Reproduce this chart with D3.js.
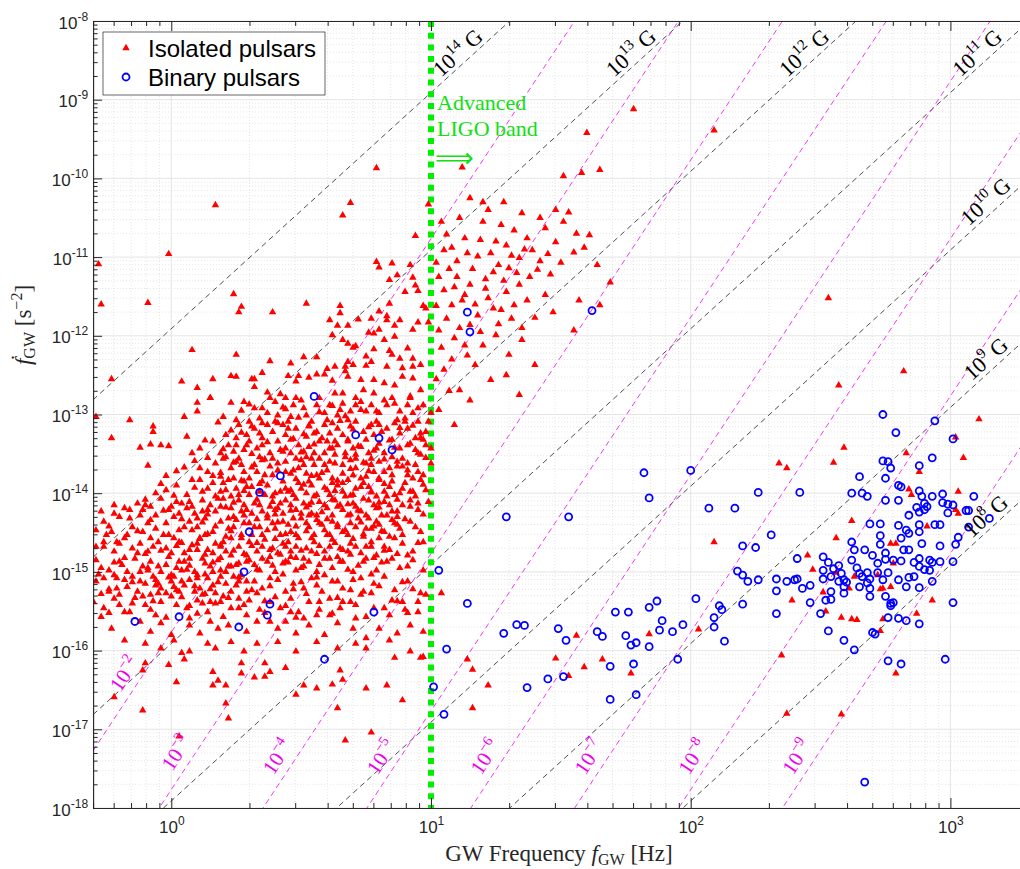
<!DOCTYPE html>
<html><head><meta charset="utf-8">
<script src="https://cdn.jsdelivr.net/npm/d3@7"></script>
<style>
html,body{margin:0;padding:0;background:#fff;}
svg{display:block;}
</style></head>
<body>
<svg id="chart" width="1020" height="869"></svg>
<script>
// Each pulsar is [log10 f_GW (Hz), log10 fdot_GW (s^-2)]
const isolatedSlowTail = [
[0.79,-9.87],[0.17,-10.34],[0.69,-10.31],[0.66,-10.47],[0.94,-10.73],[0.99,-10.33],[-0.01,-10.96],[-0.28,-11.09],[-0.27,-11.60],[-0.09,-11.58],[0.24,-11.47],[0.27,-11.63],[0.26,-11.70],[0.39,-11.70],[0.52,-11.59],[0.79,-11.06],[0.80,-11.13],[0.85,-11.08],[0.87,-11.23],[0.92,-11.10],[0.93,-11.26],[0.84,-11.29],[0.90,-11.44],[0.94,-11.36],[0.95,-11.43],[0.84,-11.59],[0.97,-11.62],[0.98,-11.65],[0.95,-11.83],[0.80,-11.69],[0.83,-11.75],[0.65,-11.62],[0.65,-11.71],[0.61,-11.80],[0.64,-11.87],[0.68,-11.87],[0.72,-11.79],[0.77,-11.78],[0.83,-11.80],[0.88,-11.80],[0.86,-11.87],[0.80,-11.92],[0.62,-11.99],[0.76,-11.96],[0.78,-11.97],[0.93,-11.92],[0.99,-11.83],[0.08,-12.18],[0.25,-12.24],[0.38,-12.32],[-0.23,-12.55],[0.04,-12.58],[0.10,-12.66],[0.16,-12.55],[0.23,-12.51],[0.25,-12.52],[0.31,-12.55],[0.32,-12.55],[0.32,-12.65],[0.35,-12.47],[0.15,-12.79],[0.37,-12.72],[0.42,-12.74],[0.45,-12.51],[0.46,-12.35],[0.49,-12.51],[0.48,-12.58],[0.51,-12.27],[0.56,-12.27],[0.53,-12.53],[0.56,-12.49],[0.59,-12.49],[0.60,-12.42],[0.63,-12.39],[0.62,-12.57],[0.66,-12.05],[0.68,-12.10],[0.70,-12.15],[0.71,-12.13],[0.68,-12.33],[0.67,-12.39],[0.70,-12.37],[0.67,-12.45],[0.68,-12.52],[0.75,-12.38],[0.77,-12.33],[0.78,-12.17],[0.75,-12.26],[0.73,-12.56],[0.78,-12.56],[0.82,-12.05],[0.86,-12.01],[0.84,-12.19],[0.85,-12.24],[0.91,-12.16],[0.88,-12.29],[0.83,-12.39],[0.89,-12.41],[0.93,-12.29],[0.93,-12.39],[0.96,-12.37],[0.82,-12.60],[0.86,-12.63],[0.89,-12.52],[0.93,-12.54],[0.96,-12.69],[0.63,-12.73],[0.66,-12.73],[0.74,-12.69],[0.78,-12.73],[0.71,-12.79],[0.92,-12.77],[0.44,-12.79],[0.48,-12.79]
];
const isolatedYoungBand = [
[1.12,-9.86],[1.51,-9.97],[1.58,-9.93],[1.65,-9.89],[1.60,-9.42],[1.78,-9.12],[2.09,-9.39],
[1.02,-11.07],[1.05,-10.91],[1.06,-10.71],[1.11,-10.50],[1.13,-10.76],[1.15,-10.25],[1.18,-10.99],[1.20,-10.55],[1.22,-10.40],[1.25,-10.80],[1.27,-10.59],[1.29,-10.85],[1.30,-11.14],[1.32,-10.66],[1.34,-11.01],[1.35,-10.44],[1.37,-10.76],[1.39,-10.91],[1.41,-11.16],[1.44,-10.63],[1.45,-10.96],[1.48,-10.81],[1.50,-11.07],[1.51,-10.55],[1.53,-10.43],[1.55,-10.94],[1.59,-10.88],[1.61,-10.72],[1.64,-11.10],[1.69,-11.32],[1.05,-11.42],[1.08,-11.61],[1.10,-11.25],[1.12,-11.55],[1.15,-11.35],[1.18,-11.74],[1.22,-11.52],[1.24,-11.19],[1.27,-11.67],[1.29,-11.44],[1.32,-11.61],[1.34,-11.35],[1.37,-11.55],[1.40,-11.77],[1.44,-11.48],[1.47,-11.70],[1.03,-11.93],[1.09,-12.03],[1.15,-11.86],[1.20,-12.12],[1.25,-11.99],[1.30,-12.24],[1.35,-12.05],[1.05,-12.43],[1.11,-12.69],[1.17,-12.37],[1.23,-12.56],[1.29,-12.50],[1.34,-12.75],[1.40,-12.37],[1.03,-12.94],[1.09,-13.13],[1.15,-12.82],[1.57,-11.55],[1.65,-11.61],[1.55,-11.93],[1.13,-12.12],
[1.04,-10.55],[1.08,-10.88],[1.10,-11.05],[1.14,-10.95],[1.16,-11.15],[1.19,-10.78],[1.21,-11.28],[1.23,-10.95],[1.26,-11.10],[1.28,-11.30],[1.31,-10.98],[1.33,-11.20],[1.36,-10.90],[1.38,-11.25],[1.42,-11.05],[1.46,-11.22],[1.03,-11.25],[1.07,-11.15],[1.09,-11.38],[1.13,-11.48],[1.17,-11.60],[1.21,-11.40],[1.24,-11.65],[1.26,-11.85],[1.31,-11.78],[1.35,-11.90],[1.02,-11.62],[1.06,-11.78],[1.11,-11.90],[1.19,-11.95],[1.04,-12.15],[1.08,-12.30],[1.14,-12.25],[1.02,-12.55],[1.07,-12.70],[1.20,-10.30],[1.28,-10.30],[1.42,-10.50],[1.48,-10.40],[1.56,-10.70]
];
const isolatedCore = [
[-0.29,-13.03],[-0.16,-13.07],[-0.07,-13.15],[0.05,-13.03],[0.10,-12.96],[0.10,-12.85],[0.15,-12.79],[0.23,-12.85],[0.27,-12.95],[0.32,-12.92],[0.34,-13.05],[0.35,-12.92],[0.38,-12.79],[0.41,-13.01],[0.43,-12.91],[0.46,-13.03],[0.47,-12.88],[0.51,-12.92],[0.52,-13.01],[0.56,-12.88],[0.59,-12.98],[0.61,-12.88],[0.64,-13.01],[0.66,-12.86],[0.69,-12.96],[0.71,-12.88],[0.75,-12.96],[0.77,-12.88],[0.80,-12.98],[0.83,-12.88],[0.85,-12.79],[0.88,-12.96],[0.91,-12.88],[0.93,-12.98],[0.97,-12.88],[1.00,-12.98],
[-0.23,-13.30],[-0.07,-13.22],[0.06,-13.28],[0.21,-13.26],[0.23,-13.20],[0.26,-13.13],[0.29,-13.26],[0.32,-13.18],[0.34,-13.24],[0.37,-13.13],[0.39,-13.22],[0.43,-13.13],[0.44,-13.26],[0.48,-13.18],[0.51,-13.25],[0.53,-13.15],[0.56,-13.22],[0.59,-13.13],[0.61,-13.24],[0.64,-13.18],[0.66,-13.26],[0.69,-13.15],[0.74,-13.22],[0.77,-13.13],[0.78,-13.26],[0.83,-13.18],[0.88,-13.24],[0.91,-13.18],[0.96,-13.30],[0.98,-13.22],
[-0.12,-13.42],[-0.08,-13.38],[-0.04,-13.39],[-0.01,-13.40],[0.11,-13.43],[0.16,-13.34],[0.19,-13.49],[0.22,-13.39],[0.24,-13.47],[0.28,-13.45],[0.30,-13.34],[0.33,-13.43],[0.35,-13.39],[0.38,-13.49],[0.41,-13.34],[0.44,-13.43],[0.46,-13.49],[0.49,-13.39],[0.51,-13.47],[0.53,-13.41],[0.57,-13.34],[0.59,-13.49],[0.61,-13.43],[0.64,-13.39],[0.67,-13.49],[0.70,-13.43],[0.73,-13.41],[0.76,-13.49],[0.79,-13.43],[0.82,-13.49],[0.88,-13.43],[0.91,-13.39],[0.94,-13.45],[0.98,-13.39],[1.00,-13.43],
[-0.09,-13.65],[-0.02,-13.78],[0.05,-13.67],[0.09,-13.59],[0.14,-13.73],[0.17,-13.62],[0.20,-13.56],[0.23,-13.68],[0.25,-13.60],[0.28,-13.73],[0.32,-13.64],[0.34,-13.54],[0.38,-13.66],[0.44,-13.60],[0.47,-13.71],[0.50,-13.58],[0.52,-13.75],[0.55,-13.64],[0.57,-13.56],[0.60,-13.71],[0.63,-13.62],[0.66,-13.75],[0.69,-13.58],[0.71,-13.68],[0.75,-13.62],[0.78,-13.73],[0.80,-13.60],[0.84,-13.68],[0.87,-13.60],[0.91,-13.71],[0.94,-13.64],[0.97,-13.77],[1.00,-13.62],
[-0.06,-14.00],[-0.02,-13.96],[0.02,-13.90],[0.06,-14.02],[0.11,-13.83],[0.14,-13.94],[0.16,-13.87],[0.19,-13.98],[0.22,-13.83],[0.25,-13.94],[0.28,-13.85],[0.31,-13.92],[0.37,-13.90],[0.40,-14.00],[0.43,-13.85],[0.46,-13.96],[0.49,-13.87],[0.52,-14.00],[0.54,-13.90],[0.57,-13.81],[0.60,-13.96],[0.62,-13.87],[0.66,-13.98],[0.68,-13.83],[0.71,-13.94],[0.74,-13.87],[0.77,-13.98],[0.80,-13.81],[0.84,-13.92],[0.86,-14.02],[0.90,-13.87],[0.93,-13.98],[0.96,-13.83],[0.98,-13.96],
[-0.27,-14.23],[-0.22,-14.26],[-0.18,-14.19],[-0.13,-14.13],[-0.11,-14.21],[-0.08,-14.17],[-0.04,-14.07],[-0.01,-14.21],[0.02,-14.11],[0.06,-14.19],[0.09,-14.26],[0.12,-14.09],[0.15,-14.15],[0.17,-14.23],[0.20,-14.07],[0.23,-14.19],[0.26,-14.09],[0.29,-14.21],[0.32,-14.13],[0.35,-14.23],[0.39,-14.11],[0.41,-14.19],[0.44,-14.09],[0.48,-14.21],[0.51,-14.13],[0.54,-14.26],[0.57,-14.11],[0.60,-14.19],[0.63,-14.09],[0.66,-14.21],[0.70,-14.13],[0.73,-14.23],[0.76,-14.09],[0.79,-14.19],[0.82,-14.11],[0.85,-14.23],[0.89,-14.15],[0.92,-14.09],[0.95,-14.21],[0.99,-14.11],
[-0.29,-14.47],[-0.26,-14.36],[-0.23,-14.49],[-0.20,-14.30],[-0.16,-14.32],[-0.15,-14.43],[-0.11,-14.49],[-0.08,-14.34],[-0.06,-14.45],[-0.02,-14.38],[0.01,-14.30],[0.03,-14.47],[0.07,-14.36],[0.10,-14.43],[0.13,-14.32],[0.16,-14.49],[0.19,-14.36],[0.22,-14.45],[0.25,-14.34],[0.34,-14.43],[0.37,-14.32],[0.40,-14.45],[0.43,-14.36],[0.46,-14.49],[0.50,-14.32],[0.53,-14.43],[0.56,-14.34],[0.59,-14.47],[0.62,-14.36],[0.66,-14.49],[0.69,-14.38],[0.72,-14.32],[0.75,-14.45],[0.79,-14.36],[0.82,-14.49],[0.85,-14.34],[0.88,-14.45],[0.92,-14.36],[0.96,-14.49],
[-0.29,-14.68],[-0.26,-14.62],[-0.22,-14.74],[-0.18,-14.57],[-0.15,-14.70],[-0.12,-14.64],[-0.09,-14.74],[-0.05,-14.62],[-0.02,-14.70],[0.01,-14.57],[0.05,-14.76],[0.08,-14.66],[0.11,-14.57],[0.14,-14.72],[0.17,-14.64],[0.21,-14.74],[0.23,-14.57],[0.26,-14.68],[0.30,-14.62],[0.33,-14.74],[0.36,-14.59],[0.39,-14.70],[0.43,-14.64],[0.46,-14.74],[0.49,-14.57],[0.52,-14.70],[0.55,-14.62],[0.59,-14.74],[0.62,-14.59],[0.65,-14.70],[0.69,-14.64],[0.73,-14.76],[0.77,-14.68],[0.80,-14.57],[0.84,-14.72],[0.89,-14.64],[0.93,-14.74],[0.97,-14.62],
[-0.29,-14.85],[-0.24,-14.98],[-0.20,-14.87],[-0.17,-15.00],[-0.14,-14.83],[-0.11,-14.93],[-0.08,-14.87],[-0.04,-15.00],[-0.01,-14.81],[0.02,-14.95],[0.05,-14.87],[0.09,-15.00],[0.12,-14.83],[0.15,-14.93],[0.18,-14.85],[0.21,-15.00],[0.25,-14.91],[0.30,-14.85],[0.34,-14.98],[0.37,-14.87],[0.40,-15.00],[0.43,-14.89],[0.46,-14.81],[0.50,-14.95],[0.53,-14.87],[0.56,-15.00],[0.59,-14.83],[0.62,-14.95],[0.66,-14.87],[0.70,-15.00],[0.74,-14.87],[0.79,-14.98],[0.83,-14.87],[0.88,-14.95],[0.93,-14.85],[0.97,-14.98],
[-0.29,-15.12],[-0.26,-15.08],[-0.21,-15.21],[-0.18,-15.10],[-0.13,-15.25],[-0.10,-15.15],[-0.07,-15.06],[-0.04,-15.21],[0.00,-15.12],[0.03,-15.25],[0.07,-15.10],[0.11,-15.21],[0.14,-15.08],[0.17,-15.27],[0.21,-15.15],[0.24,-15.06],[0.29,-15.25],[0.32,-15.12],[0.35,-15.21],[0.41,-15.10],[0.44,-15.25],[0.47,-15.15],[0.51,-15.21],[0.54,-15.08],[0.58,-15.25],[0.62,-15.12],[0.66,-15.21],[0.70,-15.10],[0.74,-15.25],[0.78,-15.15],[0.82,-15.06],[0.86,-15.23],[0.91,-15.12],[0.96,-15.27],
[-0.30,-15.38],[-0.26,-15.46],[-0.22,-15.34],[-0.18,-15.51],[-0.15,-15.40],[-0.11,-15.31],[-0.08,-15.48],[-0.04,-15.38],[0.00,-15.31],[0.06,-15.46],[0.10,-15.36],[0.14,-15.51],[0.17,-15.40],[0.20,-15.31],[0.23,-15.46],[0.30,-15.36],[0.34,-15.48],[0.42,-15.46],[0.46,-15.34],[0.49,-15.51],[0.53,-15.38],[0.57,-15.48],[0.61,-15.34],[0.65,-15.46],[0.69,-15.38],[0.73,-15.29],[0.82,-15.46],[0.85,-15.36],[0.90,-15.48],[0.95,-15.38],[0.98,-15.29],
[-0.27,-15.57],[-0.23,-15.72],[-0.18,-15.87],[-0.12,-15.63],[-0.08,-15.76],[-0.04,-15.65],[0.00,-15.80],[0.07,-15.68],[0.11,-15.78],[0.15,-15.63],[0.18,-15.72],[0.22,-15.68],[0.29,-15.76],[0.33,-15.63],[0.41,-15.72],[0.44,-15.63],[0.48,-15.78],[0.53,-15.68],[0.59,-15.80],[0.64,-15.65],[0.70,-15.72],[0.75,-15.84],[0.80,-15.72],[0.87,-15.78],[0.92,-15.68],[0.97,-15.76],
[-0.10,-15.91],[-0.04,-15.97],[0.01,-15.87],[0.07,-16.01],[0.14,-15.91],[0.17,-15.97],[0.23,-15.89],[0.28,-16.01],[0.33,-15.91],[0.41,-15.89],[0.48,-16.01],[0.56,-15.89],[0.64,-15.97],[0.71,-15.91],[0.75,-15.97],[0.84,-15.87],[0.92,-16.01]
];
const isolatedCoreFill = [
[0.25,-13.07],[0.28,-12.84],[0.35,-13.11],[0.40,-12.84],[0.45,-13.09],[0.50,-12.82],[0.54,-13.09],[0.57,-12.79],[0.60,-13.07],[0.65,-12.94],[0.68,-13.07],[0.73,-12.84],[0.79,-13.09],[0.82,-12.82],[0.87,-13.07],[0.92,-12.79],[0.95,-13.09],
[0.25,-13.30],[0.30,-13.09],[0.35,-13.30],[0.41,-13.11],[0.46,-13.32],[0.52,-13.28],[0.58,-13.30],[0.62,-13.11],[0.68,-13.32],[0.71,-13.09],[0.75,-13.32],[0.80,-13.13],[0.85,-13.32],[0.90,-13.09],[0.94,-13.30],
[0.21,-13.54],[0.26,-13.56],[0.29,-13.39],[0.35,-13.58],[0.39,-13.56],[0.43,-13.47],[0.48,-13.56],[0.52,-13.54],[0.55,-13.49],[0.60,-13.34],[0.63,-13.51],[0.68,-13.34],[0.71,-13.56],[0.77,-13.56],[0.80,-13.37],[0.85,-13.54],[0.89,-13.56],[0.96,-13.51],
[0.19,-13.79],[0.24,-13.81],[0.27,-13.64],[0.30,-13.81],[0.33,-13.73],[0.36,-13.77],[0.41,-13.71],[0.46,-13.75],[0.51,-13.64],[0.56,-13.77],[0.59,-13.64],[0.62,-13.81],[0.66,-13.64],[0.70,-13.77],[0.73,-13.81],[0.77,-13.64],[0.82,-13.73],[0.85,-13.77],[0.89,-13.66],[0.93,-13.81],
[0.17,-14.04],[0.21,-13.96],[0.26,-14.02],[0.30,-14.02],[0.34,-13.98],[0.35,-13.85],[0.39,-14.04],[0.42,-13.98],[0.47,-14.02],[0.50,-13.94],[0.53,-13.85],[0.56,-14.02],[0.61,-14.02],[0.64,-13.90],[0.67,-14.04],[0.70,-14.02],[0.76,-13.92],[0.79,-14.04],[0.82,-13.98],[0.85,-13.85],[0.88,-14.00],[0.94,-14.04],
[0.19,-14.17],[0.24,-14.30],[0.28,-14.15],[0.31,-14.26],[0.34,-14.15],[0.37,-14.28],[0.40,-14.21],[0.43,-14.26],[0.46,-14.15],[0.50,-14.26],[0.53,-14.15],[0.56,-14.28],[0.59,-14.15],[0.62,-14.28],[0.65,-14.15],[0.68,-14.28],[0.71,-14.17],[0.75,-14.28],[0.78,-14.15],[0.81,-14.28],[0.84,-14.15],[0.87,-14.30],
[0.21,-14.55],[0.24,-14.43],[0.27,-14.53],[0.30,-14.38],[0.35,-14.53],[0.39,-14.38],[0.42,-14.53],[0.45,-14.40],[0.48,-14.53],[0.52,-14.38],[0.55,-14.53],[0.58,-14.40],[0.61,-14.53],[0.64,-14.40],[0.68,-14.53],[0.71,-14.43],[0.74,-14.55],[0.77,-14.45],[0.80,-14.40],[0.84,-14.55],[0.87,-14.40],
[0.23,-14.79],[0.26,-14.89],[0.29,-14.79],[0.32,-14.91],[0.35,-14.68],[0.38,-14.81],[0.41,-14.76],[0.44,-14.87],[0.48,-14.68],[0.51,-14.83],[0.54,-14.74],[0.57,-14.91],[0.61,-14.68],[0.64,-14.81],[0.68,-14.74],[0.71,-14.68],[0.75,-14.83],[0.79,-14.79],[0.82,-14.68],[0.85,-14.83],[0.91,-14.79],
[-0.22,-14.15],[-0.16,-14.21],[-0.10,-14.15],[-0.06,-14.28],[0.00,-14.17],[0.03,-14.26],[0.07,-14.11],[0.10,-14.32],[0.14,-14.21],[-0.25,-14.53],[-0.20,-14.64],[-0.17,-14.53],[-0.13,-14.76],[-0.07,-14.68],[-0.03,-14.53],[0.00,-14.76],[0.03,-14.62],[0.07,-14.72],[0.10,-14.64],[0.13,-14.53],[0.16,-14.76],[0.19,-14.66],
[-0.27,-14.95],[-0.22,-15.04],[-0.19,-14.91],[-0.15,-15.06],[-0.12,-15.00],[-0.09,-14.95],[-0.06,-15.10],[-0.02,-14.91],[0.01,-15.06],[0.04,-14.98],[0.10,-15.04],[0.13,-14.89],[0.16,-15.00],[0.19,-15.06],[0.23,-14.93],[0.26,-15.12],
[-0.24,-15.25],[-0.20,-15.29],[-0.17,-15.19],[-0.12,-15.12],[-0.08,-15.29],[-0.05,-15.15],[-0.02,-15.27],[0.01,-15.19],[0.05,-15.17],[0.09,-15.25],[0.12,-15.29],[0.16,-15.17],[0.19,-15.38],[0.23,-15.25],[0.26,-15.34],
[-0.16,-15.51],[-0.10,-15.42],[-0.06,-15.55],[0.02,-15.42],[0.07,-15.59],[0.12,-15.40],[0.26,-15.46],[0.29,-15.55],[0.38,-15.38],[0.38,-15.63],[0.46,-15.51],[0.51,-15.59],[0.56,-15.55],[0.61,-15.55],[0.66,-15.38],[0.71,-15.59],[0.78,-15.46],[0.84,-15.55],[0.89,-15.38],[0.95,-15.51]
];
const isolatedCoreDense = [
[0.30,-12.87],[0.44,-12.93],[0.62,-12.89],[0.73,-12.94],[0.86,-12.86],[0.95,-12.92],
[0.20,-13.03],[0.37,-12.98],[0.49,-13.04],[0.57,-12.97],[0.67,-13.02],[0.79,-12.96],[0.90,-13.05],
[0.18,-13.10],[0.31,-13.15],[0.40,-13.09],[0.53,-13.14],[0.65,-13.08],[0.76,-13.16],[0.86,-13.11],[0.93,-13.14],[0.99,-13.09],
[0.27,-13.23],[0.45,-13.18],[0.55,-13.24],[0.70,-13.19],[0.81,-13.22],[0.88,-13.17],[0.96,-13.24],
[0.13,-13.33],[0.25,-13.39],[0.37,-13.35],[0.47,-13.31],[0.55,-13.38],[0.63,-13.34],[0.72,-13.40],[0.84,-13.33],[0.92,-13.37],[0.97,-13.32],
[0.08,-13.49],[0.20,-13.44],[0.31,-13.50],[0.42,-13.45],[0.50,-13.48],[0.62,-13.43],[0.71,-13.51],[0.78,-13.46],[0.86,-13.42],[0.95,-13.49],
[0.14,-13.55],[0.24,-13.61],[0.36,-13.57],[0.41,-13.62],[0.54,-13.56],[0.61,-13.60],[0.67,-13.54],[0.74,-13.61],[0.82,-13.57],[0.91,-13.62],[0.98,-13.55],
[0.02,-13.72],[0.11,-13.68],[0.19,-13.74],[0.31,-13.67],[0.44,-13.73],[0.49,-13.68],[0.58,-13.74],[0.69,-13.69],[0.76,-13.72],[0.87,-13.66],[0.95,-13.73],
[0.08,-13.83],[0.16,-13.78],[0.27,-13.84],[0.39,-13.77],[0.48,-13.82],[0.54,-13.78],[0.64,-13.84],[0.75,-13.79],[0.80,-13.83],[0.91,-13.77],
[-0.04,-13.88],[0.09,-13.93],[0.20,-13.87],[0.29,-13.92],[0.34,-13.88],[0.44,-13.94],[0.51,-13.89],[0.59,-13.93],[0.66,-13.87],[0.73,-13.92],[0.82,-13.88],[0.89,-13.94],[0.97,-13.89],
[0.01,-14.03],[0.12,-13.98],[0.23,-14.04],[0.28,-13.97],[0.36,-14.02],[0.45,-13.98],[0.55,-14.04],[0.63,-13.97],[0.69,-14.03],[0.77,-13.99],[0.83,-14.04],[0.92,-13.98],
[-0.10,-14.08],[0.04,-14.13],[0.18,-14.07],[0.24,-14.12],[0.33,-14.08],[0.42,-14.13],[0.48,-14.07],[0.54,-14.12],[0.62,-14.08],[0.68,-14.14],[0.74,-14.07],[0.80,-14.12],[0.87,-14.08],[0.95,-14.13],
[-0.03,-14.22],[0.08,-14.17],[0.12,-14.23],[0.21,-14.18],[0.27,-14.23],[0.38,-14.17],[0.46,-14.22],[0.52,-14.18],[0.58,-14.24],[0.64,-14.17],[0.72,-14.22],[0.80,-14.18],[0.87,-14.23],[0.92,-14.17],
[-0.12,-14.28],[0.04,-14.33],[0.14,-14.27],[0.22,-14.32],[0.28,-14.28],[0.33,-14.33],[0.40,-14.27],[0.47,-14.32],[0.53,-14.28],[0.60,-14.33],[0.69,-14.27],[0.76,-14.32],[0.83,-14.28],[0.90,-14.33],[0.97,-14.27],
[-0.24,-14.42],[-0.09,-14.38],[0.05,-14.43],[0.12,-14.37],[0.17,-14.42],[0.28,-14.38],[0.32,-14.43],[0.41,-14.37],[0.48,-14.42],[0.57,-14.38],[0.64,-14.43],[0.73,-14.37],[0.78,-14.42],[0.86,-14.38],[0.94,-14.43],
[-0.13,-14.48],[-0.01,-14.53],[0.08,-14.47],[0.14,-14.52],[0.23,-14.48],[0.31,-14.53],[0.37,-14.47],[0.44,-14.52],[0.52,-14.48],[0.60,-14.53],[0.67,-14.47],[0.74,-14.52],[0.81,-14.48],[0.89,-14.53],
[-0.21,-14.62],[-0.08,-14.57],[0.04,-14.63],[0.11,-14.58],[0.20,-14.62],[0.27,-14.57],[0.33,-14.63],[0.40,-14.58],[0.45,-14.62],[0.54,-14.57],[0.63,-14.63],[0.70,-14.58],[0.77,-14.62],[0.86,-14.57],[0.95,-14.63],
[-0.26,-14.68],[-0.04,-14.73],[0.02,-14.67],[0.10,-14.72],[0.19,-14.68],[0.24,-14.73],[0.31,-14.67],[0.38,-14.72],[0.44,-14.68],[0.50,-14.73],[0.57,-14.67],[0.66,-14.72],[0.75,-14.68],[0.82,-14.73],
[-0.18,-14.82],[-0.10,-14.77],[0.07,-14.83],[0.13,-14.78],[0.19,-14.82],[0.28,-14.77],[0.35,-14.83],[0.42,-14.78],[0.48,-14.82],[0.56,-14.77],[0.61,-14.83],[0.69,-14.78],[0.78,-14.82],[0.87,-14.77],
[-0.22,-14.88],[-0.05,-14.93],[0.03,-14.87],[0.07,-14.92],[0.16,-14.88],[0.22,-14.93],[0.29,-14.87],[0.39,-14.92],[0.45,-14.88],[0.51,-14.93],[0.65,-14.87],[0.72,-14.92],[0.81,-14.88],[0.91,-14.93],
[-0.28,-15.03],[-0.09,-14.98],[0.00,-15.04],[0.06,-14.97],[0.13,-15.03],[0.19,-14.98],[0.27,-15.04],[0.33,-14.97],[0.43,-15.03],[0.48,-14.98],[0.59,-15.04],[0.68,-14.97],[0.77,-15.03],
[-0.21,-15.08],[-0.15,-15.13],[-0.01,-15.07],[0.04,-15.12],[0.10,-15.08],[0.18,-15.13],[0.26,-15.07],[0.29,-15.12],[0.38,-15.08],[0.50,-15.13],[0.56,-15.07],[0.64,-15.12],[0.73,-15.08],[0.89,-15.13],
[-0.24,-15.22],[-0.06,-15.17],[0.02,-15.23],[0.09,-15.18],[0.15,-15.22],[0.25,-15.17],[0.31,-15.23],[0.38,-15.18],[0.47,-15.22],[0.56,-15.17],[0.69,-15.23],[0.80,-15.18],[0.93,-15.22],
[-0.27,-15.28],[-0.14,-15.33],[-0.05,-15.27],[0.04,-15.32],[0.13,-15.28],[0.22,-15.33],[0.33,-15.27],[0.40,-15.32],[0.52,-15.28],[0.64,-15.33],[0.77,-15.27],
[-0.20,-15.42],[-0.07,-15.37],[0.07,-15.43],[0.15,-15.38],[0.28,-15.42],[0.36,-15.37],[0.44,-15.43],[0.57,-15.38],[0.71,-15.42],[0.87,-15.37],
[-0.24,-15.52],[-0.02,-15.58],[0.10,-15.53],[0.20,-15.57],[0.36,-15.52],[0.48,-15.58],[0.62,-15.53],[0.75,-15.57],[0.91,-15.52]
];
const isolatedFaintTail = [
[-0.11,-16.25],[-0.10,-16.16],[-0.01,-16.18],[0.04,-16.03],[0.05,-16.11],[0.02,-16.40],[0.16,-16.27],[0.16,-16.44],[0.18,-16.38],[0.21,-16.44],[0.27,-16.29],[0.27,-16.16],[0.32,-16.34],[0.36,-16.16],[0.36,-16.33],[0.38,-16.27],[0.44,-16.22],[0.48,-16.56],[0.51,-16.44],[0.56,-16.48],[0.62,-16.43],[0.66,-16.37],[0.65,-16.25],[0.75,-16.48],[0.83,-16.44],[0.89,-16.63],[0.86,-16.09],[0.97,-16.08],[0.21,-16.67],[0.22,-16.86],[-0.22,-16.59],[-0.11,-16.76],[0.03,-17.09],[0.77,-17.04],[0.67,-17.14],[0.64,-16.73],[1.04,-15.27],
[0.96,-16.09],[1.14,-16.11],[1.16,-16.24],[1.22,-16.44],[1.16,-16.73],[1.48,-16.10],[1.56,-15.81],[1.59,-16.21],[1.53,-16.32],[1.66,-16.11],[1.77,-16.29],[1.84,-15.79],[2.37,-16.80],[2.58,-16.81]
];
const isolatedFastSpin = [
[2.53,-11.52],[2.82,-12.45],[2.85,-14.02],
[2.57,-12.63],[3.11,-13.06],[3.02,-13.29],[2.59,-13.42],[2.83,-13.49],[3.05,-13.55],[2.34,-13.62],[2.37,-13.68],[2.55,-13.61],[2.88,-13.73],[2.84,-13.95],[3.03,-13.98],[3.02,-14.21],[3.03,-14.26],[2.91,-14.42],[2.62,-14.35],[2.09,-14.62],[2.56,-14.57],[2.77,-14.64],[2.79,-14.64],[2.45,-14.79],[2.47,-14.97],[2.56,-15.01],[2.78,-14.89],[2.72,-15.04],[2.63,-15.06],[2.77,-15.19],[2.74,-15.21],[2.73,-15.22],[2.61,-15.21],[2.51,-15.26],[2.39,-15.36],[2.93,-15.36],[2.52,-15.50],[2.58,-15.58],[2.62,-15.60],[2.64,-15.61],[2.74,-15.60],[2.87,-15.53],[2.73,-15.75],[2.03,-15.73],[2.35,-16.06],[2.79,-16.29]
];
const binaryLowFreq = [
[0.55,-12.77],[0.71,-13.26],[0.80,-13.30],[0.85,-13.45],[0.42,-13.78],[0.34,-13.99],[0.30,-14.49],[0.28,-15.00],[0.38,-15.41],[0.37,-15.55],[0.26,-15.70],[0.03,-15.57],[-0.14,-15.63],[0.78,-15.51],[0.59,-16.11],[1.03,-14.98],[1.06,-15.98],[1.01,-16.46],[1.05,-16.81],
[1.14,-11.70],[1.15,-11.95],[1.62,-11.68]
];
const binaryMidFreq = [
[1.29,-14.30],[1.53,-14.30],[1.82,-13.74],[1.84,-14.06],
[1.14,-15.40],[1.28,-15.78],[1.33,-15.67],[1.36,-15.68],[1.37,-16.47],[1.45,-16.36],[1.49,-15.72],[1.52,-15.87],[1.51,-16.33],[1.64,-15.76],[1.66,-15.82],[1.71,-15.51],[1.76,-15.51],[1.69,-16.20],[1.69,-16.62],[1.75,-15.81],[1.77,-15.93],[1.79,-15.90],[1.78,-16.17],[1.79,-16.56],[1.84,-15.95],[1.84,-15.45],[1.87,-15.37],[1.88,-15.74],[1.89,-15.62],[1.93,-15.76],[1.97,-15.67],[1.95,-16.11],[2.67,-17.67]
];
const binaryMillisecond = [
[2.74,-13.00],[2.94,-13.08],[2.79,-13.23],[3.01,-13.31],[2.93,-13.55],[2.74,-13.59],[2.76,-13.60],[2.77,-13.68],[2.88,-13.65],[2.65,-13.79],[2.75,-13.81],[2.80,-13.90],[2.81,-13.92],[2.26,-13.99],[2.42,-13.99],[2.62,-14.00],[2.66,-14.00],[2.68,-14.04],[2.75,-14.09],[2.80,-14.09],[2.88,-13.97],[2.89,-14.04],[2.93,-14.04],[2.97,-14.01],[2.97,-14.12],[2.99,-14.14],[3.01,-14.15],[3.09,-14.04],[2.90,-14.13],[2.91,-14.17],[2.90,-14.21],[2.87,-14.18],[2.88,-14.24],[2.84,-14.28],[2.99,-14.25],[3.06,-14.22],[3.07,-14.22],[3.15,-14.32],[3.07,-14.43],[2.07,-14.19],[2.17,-14.19],[2.69,-14.39],[2.73,-14.39],[2.80,-14.41],[2.83,-14.47],[2.88,-14.40],[2.88,-14.49],[2.94,-14.40],[2.96,-14.40],[2.73,-14.54],[2.81,-14.57],[2.84,-14.51],[2.31,-14.53],[2.62,-14.62],[2.20,-14.67],[2.25,-14.69],[2.63,-14.72],[2.67,-14.72],[2.73,-14.65],[2.89,-14.64],[2.82,-14.72],[2.84,-14.72],[2.96,-14.67],[3.02,-14.65],[3.03,-14.56],[2.41,-14.83],[2.51,-14.81],[2.70,-14.79],[2.75,-14.76],[2.75,-14.84],[2.78,-14.85],[2.81,-14.86],[2.62,-14.85],[2.53,-14.88],[2.57,-14.92],[2.72,-14.89],[2.86,-14.88],[2.88,-14.83],[2.88,-14.93],[2.92,-14.85],[2.93,-14.88],[2.96,-14.87],[3.01,-14.87],[2.90,-14.97],[2.92,-14.98],[2.18,-14.99],[2.20,-15.04],[2.22,-15.12],[2.26,-15.10],[2.33,-15.09],[2.33,-15.24],[2.37,-15.12],[2.40,-15.10],[2.41,-15.09],[2.43,-15.21],[2.46,-15.17],[2.51,-15.09],[2.51,-14.98],[2.54,-15.06],[2.55,-14.96],[2.58,-15.02],[2.59,-15.10],[2.60,-15.13],[2.64,-14.95],[2.65,-15.02],[2.66,-15.06],[2.68,-15.01],[2.69,-15.09],[2.68,-15.14],[2.72,-15.01],[2.74,-15.10],[2.76,-15.01],[2.80,-15.10],[2.83,-15.19],[2.84,-15.07],[2.86,-15.06],[2.93,-15.12],[2.88,-15.20],[2.57,-15.12],[2.59,-15.19],[2.65,-15.19],[2.69,-15.21],[2.54,-15.25],[2.59,-15.27],[2.69,-15.31],[2.75,-15.31],[2.52,-15.36],[2.54,-15.35],[2.46,-15.39],[2.77,-15.40],[2.78,-15.39],[2.77,-15.43],[2.02,-15.34],[2.11,-15.43],[2.12,-15.48],[2.09,-15.58],[2.09,-15.70],[2.20,-15.41],[2.13,-15.88],[2.33,-15.53],[2.50,-15.53],[2.53,-15.75],[2.59,-15.87],[2.63,-15.99],[2.70,-15.77],[2.71,-15.79],[2.76,-15.58],[2.80,-15.59],[2.83,-15.62],[2.88,-15.66],[3.01,-15.39],[2.76,-16.13],[2.81,-16.17],[2.98,-16.11],[2.00,-13.71]
];

// Reference lines: log10 dipole field (G) and log10 ellipticity
const dipoleFieldsLogG = [14, 13, 12, 11, 10, 9, 8];
const ellipticitiesLog = [-2, -3, -4, -5, -6, -7, -8, -9];
const ligoLowerEdgeHz = 10;
const xMajorTicks = [1, 10, 100, 1000];
const yMajorTicks = [1e-18,1e-17,1e-16,1e-15,1e-14,1e-13,1e-12,1e-11,1e-10,1e-9,1e-8];
const legendLabels = ["Isolated pulsars", "Binary pulsars"];

// fdot = K_B * B^2 * f^3 (dipole braking), fdot = K_e * eps^2 * f^5 (GW emission)
const logKDipole = -39.91;
const logKGw = -11.766;

const isolated = [].concat(isolatedSlowTail, isolatedYoungBand, isolatedCore, isolatedCoreFill, isolatedCoreDense, isolatedFaintTail, isolatedFastSpin);
const binary = [].concat(binaryLowFreq, binaryMidFreq, binaryMillisecond);

const svg = d3.select("#chart");
const P = {left: 93.1, right: 1028.6, top: 21, bottom: 808};
const x = d3.scaleLog().domain([0.5, 2000]).range([P.left, P.right]);
const y = d3.scaleLog().domain([1e-18, 1e-8]).range([P.bottom, P.top]);

const axisColor = "#262626";
const sans = "'Liberation Sans', Arial, Helvetica, sans-serif";
const serif = "'Liberation Serif', 'Times New Roman', serif";

svg.append("rect").attr("width", 1020).attr("height", 869).attr("fill", "#fff");
svg.append("defs").append("clipPath").attr("id", "plotClip")
  .append("rect").attr("x", P.left).attr("y", P.top)
  .attr("width", P.right - P.left).attr("height", P.bottom - P.top);

// minor tick positions
const xMinor = [];
[0.1, 1, 10, 100, 1000].forEach(d => { for (let k = 2; k <= 9; k++) { const v = d * k; if (v >= 0.5 && v <= 2000) xMinor.push(v); } });
const yMinor = [];
for (let e = -18; e < -8; e++) for (let k = 2; k <= 9; k++) yMinor.push(k * Math.pow(10, e));

// grid
const grid = svg.append("g");
grid.selectAll(".vmin").data(xMinor).join("line")
  .attr("x1", d => x(d)).attr("x2", d => x(d)).attr("y1", P.top).attr("y2", P.bottom)
  .attr("stroke", "#d4d4d4").attr("stroke-width", 0.6).attr("stroke-dasharray", "1,2");
grid.selectAll(".hmin").data(yMinor).join("line")
  .attr("y1", d => y(d)).attr("y2", d => y(d)).attr("x1", P.left).attr("x2", P.right)
  .attr("stroke", "#d4d4d4").attr("stroke-width", 0.6).attr("stroke-dasharray", "1,2");
grid.selectAll(".vmaj").data(xMajorTicks).join("line")
  .attr("x1", d => x(d)).attr("x2", d => x(d)).attr("y1", P.top).attr("y2", P.bottom)
  .attr("stroke", "#dedede").attr("stroke-width", 0.8);
grid.selectAll(".hmaj").data(yMajorTicks).join("line")
  .attr("y1", d => y(d)).attr("y2", d => y(d)).attr("x1", P.left).attr("x2", P.right)
  .attr("stroke", "#dedede").attr("stroke-width", 0.8);

const plotG = svg.append("g").attr("clip-path", "url(#plotClip)");
const fEnds = [0.5, 2000];
const line = d3.line().x(d => x(d[0])).y(d => y(d[1]));

// constant-field lines
dipoleFieldsLogG.forEach(lb => {
  const pts = fEnds.map(f => [f, Math.pow(10, logKDipole + 2 * lb + 3 * Math.log10(f))]);
  plotG.append("path").attr("d", line(pts)).attr("fill", "none")
    .attr("stroke", "#222").attr("stroke-width", 0.8).attr("stroke-dasharray", "5.5,4");
});
// constant-ellipticity lines
ellipticitiesLog.forEach(le => {
  const pts = fEnds.map(f => [f, Math.pow(10, logKGw + 2 * le + 5 * Math.log10(f))]);
  plotG.append("path").attr("d", line(pts)).attr("fill", "none")
    .attr("stroke", "#f020f0").attr("stroke-width", 0.9).attr("stroke-dasharray", "5.5,4");
});

// Advanced LIGO lower edge
plotG.append("line").attr("x1", x(ligoLowerEdgeHz)).attr("x2", x(ligoLowerEdgeHz))
  .attr("y1", P.top).attr("y2", P.bottom)
  .attr("stroke", "#00ee00").attr("stroke-width", 6).attr("stroke-dasharray", "6,5.7");

// markers
const tri = d3.symbol().type(d3.symbolTriangle).size(24);
plotG.append("g").selectAll("path").data(isolated).join("path")
  .attr("d", tri)
  .attr("transform", d => `translate(${x(Math.pow(10, d[0]))},${y(Math.pow(10, d[1]))})`)
  .attr("fill", "#ff0000");
plotG.append("g").selectAll("circle").data(binary).join("circle")
  .attr("cx", d => x(Math.pow(10, d[0]))).attr("cy", d => y(Math.pow(10, d[1])))
  .attr("r", 3.5).attr("fill", "none").attr("stroke", "#0000ff").attr("stroke-width", 1.8);

// power-of-ten label helper
function powerText(sel, exp, suffix, size) {
  sel.append("tspan").text("10");
  sel.append("tspan").attr("dy", -0.45 * size).attr("font-size", 0.68 * size).text(exp);
  if (suffix) sel.append("tspan").attr("dy", 0.45 * size).text(suffix);
}

// field labels, rotated along the lines
const bAngle = Math.atan2(y(1e-12) - y(1e-15), x(10) - x(1)) * 180 / Math.PI;
dipoleFieldsLogG.forEach(lb => {
  let cx, cy;
  if (lb >= 11) {
    const fd = y.invert(68);
    const f = Math.pow(fd / Math.pow(10, logKDipole + 2 * lb), 1 / 3);
    cx = x(f); cy = 53;
  } else {
    const f = x.invert(986);
    cx = 986; cy = y(Math.pow(10, logKDipole + 2 * lb + 3 * Math.log10(f))) - 16;
  }
  const t = svg.append("text").attr("transform", `translate(${cx},${cy}) rotate(${bAngle})`)
    .attr("text-anchor", "middle").attr("y", 7).attr("font-family", serif)
    .attr("font-size", 22).attr("fill", "#000");
  powerText(t, lb, " G", 22);
});

// ellipticity labels
const eAngle = Math.atan2(y(1e-10) - y(1e-15), x(10) - x(1)) * 180 / Math.PI;
ellipticitiesLog.forEach(le => {
  const py = le === -2 ? 674 : (le === -3 ? 753 : 757);
  const fd = y.invert(py);
  const f = Math.pow(fd / Math.pow(10, logKGw + 2 * le), 1 / 5);
  const cx = x(f) - 19;
  const t = svg.append("text").attr("transform", `translate(${cx},${py}) rotate(${eAngle})`)
    .attr("text-anchor", "middle").attr("y", 7).attr("font-family", serif)
    .attr("font-size", 21).attr("fill", "#ee00ee");
  powerText(t, "\u2212" + (-le), null, 21);
});

// LIGO annotation
const ligoText = svg.append("g").attr("fill", "#11e011").attr("font-family", serif).attr("font-size", 22);
ligoText.append("text").attr("x", 437).attr("y", 110).text("Advanced");
ligoText.append("text").attr("x", 437).attr("y", 136).text("LIGO band");
ligoText.append("text").attr("x", 435).attr("y", 167).attr("font-family", "'DejaVu Sans', sans-serif")
  .attr("font-size", 27).text("\u27f9");

// axes
function styleAxis(g) {
  g.selectAll("path, line").attr("stroke", axisColor);
  g.select(".domain").attr("stroke-width", 0.9);
}
const xAxisG = svg.append("g").attr("transform", `translate(0,${P.bottom})`)
  .call(d3.axisBottom(x).tickValues(xMajorTicks).tickSizeInner(-10).tickSizeOuter(0).tickPadding(13));
const xMinorG = svg.append("g").attr("transform", `translate(0,${P.bottom})`)
  .call(d3.axisBottom(x).tickValues(xMinor).tickSizeInner(-5).tickSizeOuter(0).tickFormat(() => ""));
const xTopG = svg.append("g").attr("transform", `translate(0,${P.top})`)
  .call(d3.axisTop(x).tickValues(xMajorTicks).tickSizeInner(-10).tickSizeOuter(0).tickFormat(() => ""));
const xTopMinorG = svg.append("g").attr("transform", `translate(0,${P.top})`)
  .call(d3.axisTop(x).tickValues(xMinor).tickSizeInner(-5).tickSizeOuter(0).tickFormat(() => ""));
const yAxisG = svg.append("g").attr("transform", `translate(${P.left},0)`)
  .call(d3.axisLeft(y).tickValues(yMajorTicks).tickSizeInner(-9).tickSizeOuter(0).tickPadding(5));
const yMinorG = svg.append("g").attr("transform", `translate(${P.left},0)`)
  .call(d3.axisLeft(y).tickValues(yMinor).tickSizeInner(-4.5).tickSizeOuter(0).tickFormat(() => ""));
[xAxisG, xMinorG, xTopG, xTopMinorG, yAxisG, yMinorG].forEach(styleAxis);

xAxisG.selectAll(".tick text").each(function (d) {
  const t = d3.select(this).text(null).attr("font-family", sans).attr("font-size", 17)
    .attr("fill", axisColor).attr("dy", "0.71em");
  t.append("tspan").text("10");
  t.append("tspan").attr("dy", -8).attr("font-size", 12).text(Math.round(Math.log10(d)));
});
yAxisG.selectAll(".tick text").each(function (d) {
  const t = d3.select(this).text(null).attr("font-family", sans).attr("font-size", 17)
    .attr("fill", axisColor).attr("dy", "0.42em");
  t.append("tspan").text("10");
  t.append("tspan").attr("dy", -8).attr("font-size", 12).text(Math.round(Math.log10(d)));
});

// axis titles
const xl = svg.append("text").attr("x", (P.left + P.right) / 2 - 2).attr("y", 861)
  .attr("text-anchor", "middle").attr("font-family", serif).attr("font-size", 23).attr("fill", "#262626");
xl.append("tspan").text("GW Frequency ");
xl.append("tspan").attr("font-style", "italic").text("f");
xl.append("tspan").attr("font-size", 16).attr("dy", 4).text("GW");
xl.append("tspan").attr("dy", -4).text(" [Hz]");

const yl = svg.append("text").attr("transform", "translate(31,325) rotate(-90)")
  .attr("text-anchor", "middle").attr("font-family", serif).attr("font-size", 23).attr("fill", "#262626");
yl.append("tspan").attr("font-style", "italic").text("\u1e1f");
yl.append("tspan").attr("font-size", 16).attr("dy", 4).text("GW");
yl.append("tspan").attr("dy", -4).text(" [s");
yl.append("tspan").attr("font-size", 16).attr("dy", -9).text("\u22122");
yl.append("tspan").attr("dy", 9).text("]");

// legend
const lg = svg.append("g");
lg.append("rect").attr("x", 103).attr("y", 32).attr("width", 222).attr("height", 63)
  .attr("fill", "#fff").attr("stroke", axisColor).attr("stroke-width", 0.7);
lg.append("path").attr("d", tri).attr("transform", "translate(126,48)").attr("fill", "#ff0000");
lg.append("circle").attr("cx", 126).attr("cy", 77).attr("r", 3.5)
  .attr("fill", "none").attr("stroke", "#0000ff").attr("stroke-width", 1.8);
lg.selectAll("text").data(legendLabels).join("text")
  .attr("x", 148).attr("y", (d, i) => 57 + i * 29)
  .attr("font-family", sans).attr("font-size", 24).attr("fill", "#000").text(d => d);
</script>
</body></html>
